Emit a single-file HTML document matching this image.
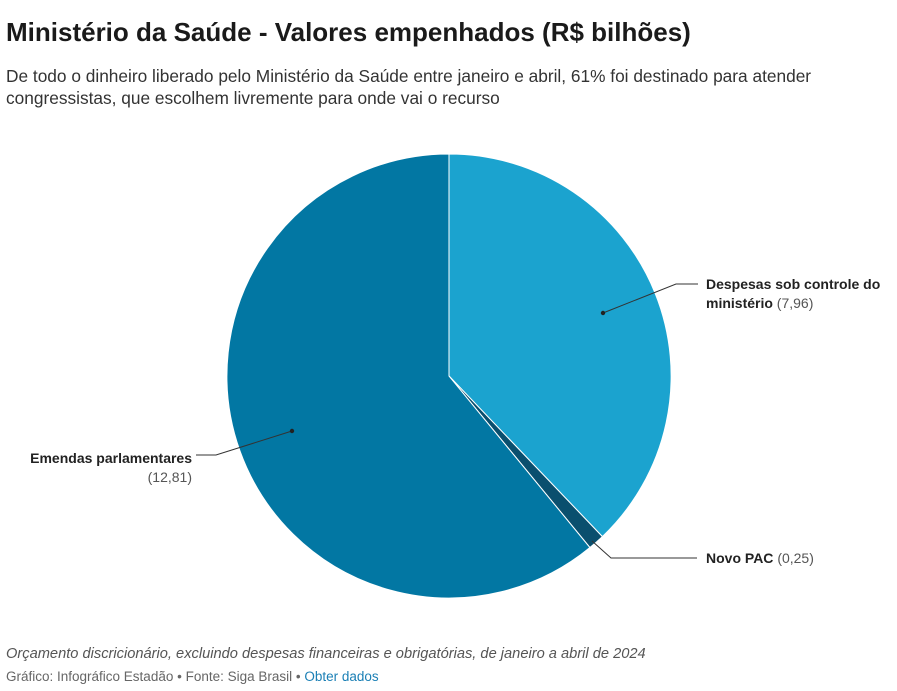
<!DOCTYPE html>
<html><head><meta charset="utf-8"><style>
body{margin:0;background:#fff;width:897px;height:691px;overflow:hidden;font-family:"Liberation Sans",sans-serif;position:relative}
.t{position:absolute;left:6px;top:17px;font-size:26px;font-weight:bold;color:#1a1a1a;letter-spacing:0}
.s{position:absolute;left:6px;top:65px;font-size:17.3px;line-height:22px;color:#333;width:880px}
.n{position:absolute;left:6px;top:646px;font-size:14.65px;font-style:italic;color:#555}
.f{position:absolute;left:6px;top:669px;font-size:13.5px;color:#666}
.f span{color:#1a7fb5}
.l{position:absolute;font-size:14px;color:#222;line-height:19px}
.l b{color:#222}
.l i{font-style:normal;color:#555}
</style></head><body>
<div class="t">Ministério da Saúde - Valores empenhados (R$ bilhões)</div>
<div class="s">De todo o dinheiro liberado pelo Ministério da Saúde entre janeiro e abril, 61% foi destinado para atender congressistas, que escolhem livremente para onde vai o recurso</div>
<svg width="897" height="691" style="position:absolute;left:0;top:0">
<path d="M449,376 L449,154 A222,222 0 0 1 602.4,536.6 Z" fill="#1ba3cf" stroke="#fff" stroke-width="1"/>
<path d="M449,376 L602.4,536.6 A222,222 0 0 1 589.9,547.5 Z" fill="#0a4f6e" stroke="#fff" stroke-width="1"/>
<path d="M449,376 L589.9,547.5 A222,222 0 1 1 449,154 Z" fill="#0277a3" stroke="#fff" stroke-width="1"/>
<polyline points="603,313 676,284 698,284" fill="none" stroke="#333" stroke-width="1"/>
<circle cx="603" cy="313" r="2.2" fill="#222"/>
<polyline points="592,541 611,558 697,558" fill="none" stroke="#333" stroke-width="1"/>
<polyline points="292,431 216,455 196,455" fill="none" stroke="#333" stroke-width="1"/>
<circle cx="292" cy="431" r="2.2" fill="#222"/>
</svg>
<div class="l" style="left:706px;top:275px"><b>Despesas sob controle do<br>ministério</b> <i>(7,96)</i></div>
<div class="l" style="left:706px;top:549px"><b>Novo PAC</b> <i>(0,25)</i></div>
<div class="l" style="left:0;width:192px;text-align:right;top:449px"><b>Emendas parlamentares</b><br><i>(12,81)</i></div>
<div class="n">Orçamento discricionário, excluindo despesas financeiras e obrigatórias, de janeiro a abril de 2024</div>
<div class="f">Gráfico: Infográfico Estadão • Fonte: Siga Brasil • <span>Obter dados</span></div>
</body></html>
